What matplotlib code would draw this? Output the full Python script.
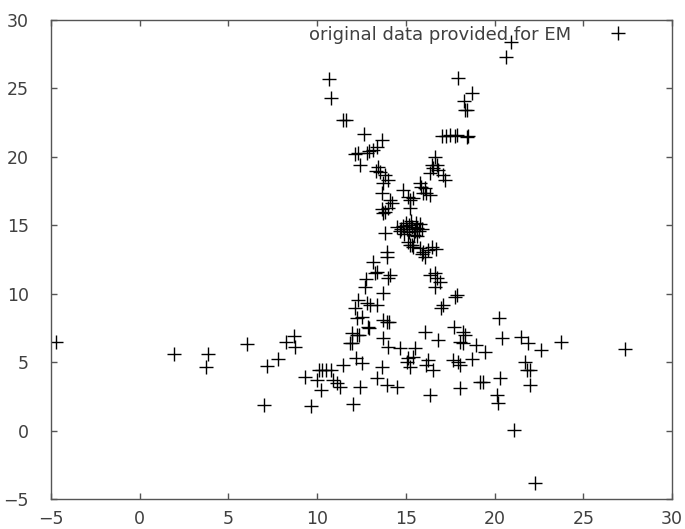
import matplotlib
matplotlib.use("Agg")
import matplotlib.pyplot as plt

# points
x_bottom = [-4.73, 1.95, 3.86, 3.72, 6.03, 7.19, 7.82, 8.22, 8.68, 8.76, 7.0, 9.68, 9.31,
            10.1, 10.3, 10.5, 10.78, 10.0, 10.22, 10.9, 11.1, 11.28, 11.43, 12.0, 11.85,
            11.94, 12.37, 12.93, 12.18, 12.5, 12.41, 13.35, 13.91, 14.48, 13.68, 13.7, 13.98,
            13.7, 14.04, 14.66, 15.5, 15.13, 15.41, 15.04, 15.23, 16.07, 16.82, 16.26, 16.16,
            16.54, 16.35, 17.7, 17.67, 17.95, 18.04, 18.7, 18.04, 18.23, 18.32, 18.23, 18.04,
            18.98, 19.45, 19.17, 19.35, 20.3, 20.11, 20.2, 20.24, 20.4, 21.5, 21.89, 22.64,
            23.77, 27.34, 21.7, 21.99, 21.8, 21.99, 21.08, 22.3]
y_bottom = [6.48, 5.6, 5.6, 4.66, 6.33, 4.72, 5.26, 6.48, 6.95, 6.1, 1.87, 1.8, 3.9,
            4.42, 4.42, 4.42, 4.42, 3.72, 2.97, 3.71, 3.47, 3.23, 4.81, 1.96, 6.39,
            7.12, 7.0, 7.48, 5.29, 4.93, 3.23, 3.84, 3.35, 3.23, 4.68, 6.75, 6.15,
            8.1, 7.98, 6.02, 6.02, 5.29, 5.41, 5.04, 4.68, 7.23, 6.64, 5.17, 4.8,
            4.45, 2.61, 7.6, 5.17, 5.04, 4.8, 5.22, 3.1, 7.23, 7.0, 6.39, 6.5,
            6.28, 5.77, 3.58, 3.58, 3.84, 2.61, 2.0, 8.22, 6.75, 6.87, 6.39, 5.9,
            6.46, 5.97, 5.04, 4.44, 4.44, 3.34, 0.06, -3.83]

x_lower_arms = [13.91, 13.91, 13.16, 13.35, 13.25, 14.1, 14.0, 12.69, 13.69, 12.31, 12.79,
                12.97, 13.35, 12.13, 12.22, 12.5, 12.88, 12.22, 11.94, 13.91, 12.75, 13.82,
                16.35, 16.63, 16.73, 16.92, 16.63, 17.86, 17.76, 17.1, 17.0, 15.23, 15.41,
                15.79, 15.97, 16.26, 16.45, 16.07, 15.9, 16.7]
y_lower_arms = [13.07, 12.71, 12.34, 11.61, 11.5, 11.38, 11.13, 10.5, 10.04, 9.55, 9.31,
                9.18, 9.18, 8.94, 8.21, 8.33, 7.6, 7.0, 6.39, 7.97, 11.05, 14.41,
                11.38, 11.5, 11.13, 10.89, 10.5, 9.91, 9.79, 9.18, 8.94, 13.56, 13.44,
                13.32, 13.07, 13.2, 13.44, 12.71, 12.9, 13.3]

x_centre = [14.5, 14.7, 14.85, 15.0, 15.05, 15.15, 15.3, 15.35, 15.5, 15.6, 15.75, 15.9,
            15.2, 14.9, 15.45, 15.65, 15.1, 15.35, 15.55, 14.65, 15.8]
y_centre = [14.9, 14.7, 14.95, 15.2, 14.75, 14.5, 15.35, 14.9, 14.6, 14.8, 14.55, 14.75,
            15.05, 14.35, 14.3, 14.25, 13.8, 13.6, 15.2, 14.6, 15.1]

x_upper_arms = [13.44, 13.54, 13.82, 14.0, 13.72, 13.63, 14.1, 14.2, 13.63, 13.82, 14.0,
                13.72, 13.3, 12.3, 12.15, 12.8, 12.95, 12.41, 13.16, 13.35, 13.63, 12.62,
                11.47, 11.62, 10.68, 10.8,
                16.63, 16.73, 16.54, 16.82, 17.1, 17.2, 16.35, 16.5, 15.79, 16.07, 15.97,
                16.16, 15.88, 16.35, 14.85, 15.13, 15.23, 15.41, 15.25,
                17.01, 17.29, 17.5, 17.76, 17.9, 18.42, 18.51, 18.32, 18.45, 18.3, 18.7,
                17.95, 20.65, 20.95]
y_upper_arms = [19.28, 18.91, 18.68, 18.31, 18.07, 17.34, 16.85, 16.6, 16.2, 16.0, 16.26,
                15.88, 19.0, 20.3, 20.2, 20.3, 20.4, 19.4, 20.5, 20.74, 21.25, 21.7,
                22.65, 22.65, 25.7, 24.3,
                20.0, 19.4, 19.16, 19.04, 18.68, 18.31, 18.8, 19.4, 18.07, 17.71, 17.34,
                17.34, 17.83, 17.21, 17.58, 17.09, 16.85, 16.97, 16.3,
                21.5, 21.55, 21.6, 21.5, 21.6, 21.45, 21.55, 23.45, 23.45, 24.05, 24.65,
                25.75, 27.3, 28.4]

xs = x_bottom + x_lower_arms + x_centre + x_upper_arms
ys = y_bottom + y_lower_arms + y_centre + y_upper_arms

plt.rcParams['font.family'] = ['DejaVu Sans']

fig = plt.figure(figsize=(6.85, 5.29), dpi=100)
ax = fig.add_axes([0.0745, 0.056, 0.9065, 0.9066])

ax.plot(xs, ys, linestyle="none", marker="+", markersize=10, markeredgewidth=1.0,
        color="black", label="original data provided for EM")

ax.set_xlim(-5, 30)
ax.set_ylim(-5, 30)
ax.set_xticks(range(-5, 31, 5))
ax.set_yticks(range(-5, 31, 5))

for s in ax.spines.values():
    s.set_color("#555555")
    s.set_linewidth(1.0)
ax.tick_params(direction="in", length=4.5, width=1, color="#555555",
               top=True, right=True, labelsize=12.5, labelcolor="#404040")
ax.tick_params(axis="y", pad=16)
ax.tick_params(axis="x", pad=8)

ax.legend(loc="upper right", bbox_to_anchor=(0.9425, 0.988), frameon=False,
          markerfirst=False, fontsize=13, borderpad=0, borderaxespad=0,
          handletextpad=1.6, handlelength=2.0, labelcolor="#404040")

fig.savefig("out.png", dpi=100)
